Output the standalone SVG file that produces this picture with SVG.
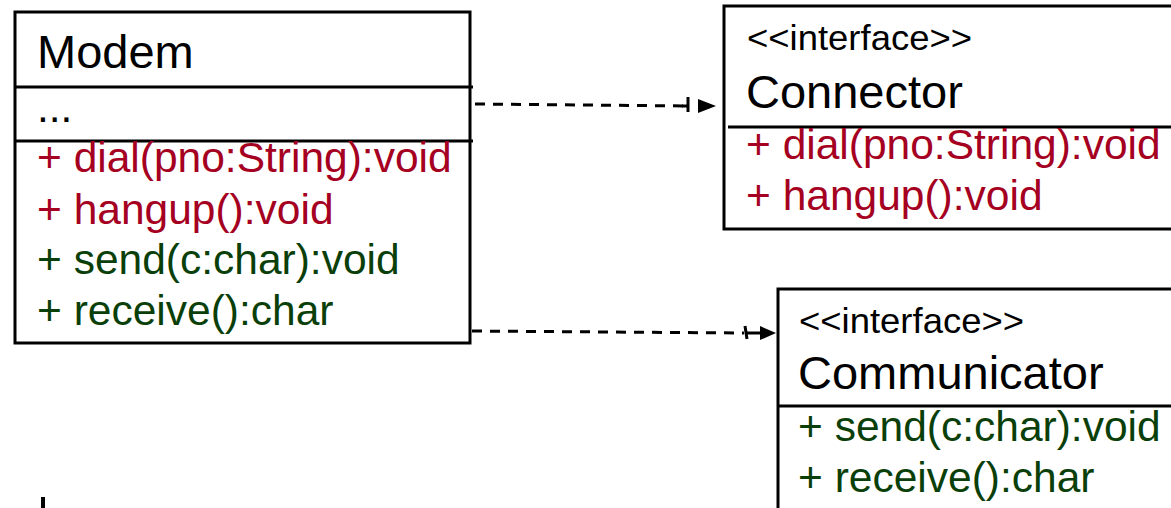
<svg xmlns="http://www.w3.org/2000/svg" width="1171" height="508" viewBox="0 0 1171 508">
  <style>
    text { font-family: "Liberation Sans", Arial, sans-serif; }
    .box { fill: #ffffff; stroke: #000000; stroke-width: 3; }
    .sep { stroke: #000000; stroke-width: 3; fill: none; }
    .name { font-size: 47px; fill: #000000; }
    .stereo { font-size: 35px; fill: #000000; }
    .member { font-size: 42.5px; }
    .red { fill: #A50021; }
    .green { fill: #0A3F0A; }
    .dep { stroke: #000000; stroke-width: 3; fill: none; stroke-dasharray: 10 8; }
    .tick { stroke: #000000; stroke-width: 3; fill: none; }
    .head { fill: #000000; }
  </style>

  <!-- Modem class -->
  <g id="modem">
    <rect class="box" x="15" y="12" width="455" height="331"/>
    <line class="sep" x1="15" y1="87" x2="473" y2="87"/>
    <line class="sep" x1="15" y1="141" x2="473" y2="141"/>
    <text class="name" x="37" y="68">Modem</text>
    <text class="member" x="37" y="122" fill="#000">...</text>
    <text class="member red" x="37" y="172">+ dial(pno:String):void</text>
    <text class="member red" x="37" y="224">+ hangup():void</text>
    <text class="member green" x="37" y="274">+ send(c:char):void</text>
    <text class="member green" x="37" y="325">+ receive():char</text>
  </g>

  <!-- Connector interface -->
  <g id="connector">
    <rect class="box" x="724" y="6" width="460" height="223"/>
    <line class="sep" x1="728" y1="127" x2="1171" y2="127"/>
    <text class="stereo" x="747" y="50" textLength="225" lengthAdjust="spacingAndGlyphs">&lt;&lt;interface&gt;&gt;</text>
    <text class="name" x="746" y="108">Connector</text>
    <text class="member red" x="746" y="159">+ dial(pno:String):void</text>
    <text class="member red" x="746" y="210">+ hangup():void</text>
  </g>

  <!-- Communicator interface -->
  <g id="communicator">
    <rect class="box" x="778" y="289" width="410" height="240"/>
    <line class="sep" x1="778" y1="406" x2="1171" y2="406"/>
    <text class="stereo" x="799" y="333" textLength="225" lengthAdjust="spacingAndGlyphs">&lt;&lt;interface&gt;&gt;</text>
    <text class="name" x="798" y="389">Communicator</text>
    <text class="member green" x="798" y="441">+ send(c:char):void</text>
    <text class="member green" x="798" y="492">+ receive():char</text>
  </g>

  <!-- dependency connectors -->
  <g id="connectors">
    <line class="dep" x1="475" y1="104" x2="688" y2="106"/>
    <line class="tick" x1="688" y1="97" x2="688" y2="112"/>
    <line class="tick" x1="682" y1="106" x2="688" y2="106"/>
    <polygon class="head" points="698,99 716,106 698,113"/>

    <line class="dep" x1="472" y1="331" x2="744" y2="333"/>
    <line class="tick" x1="745" y1="326" x2="747" y2="339"/>
    <line class="tick" x1="746" y1="333" x2="762" y2="333"/>
    <polygon class="head" points="760,326 776,333 760,340"/>
  </g>

  <!-- partial mark at lower left -->
  <rect x="41" y="497" width="4" height="11" fill="#000000"/>
</svg>
